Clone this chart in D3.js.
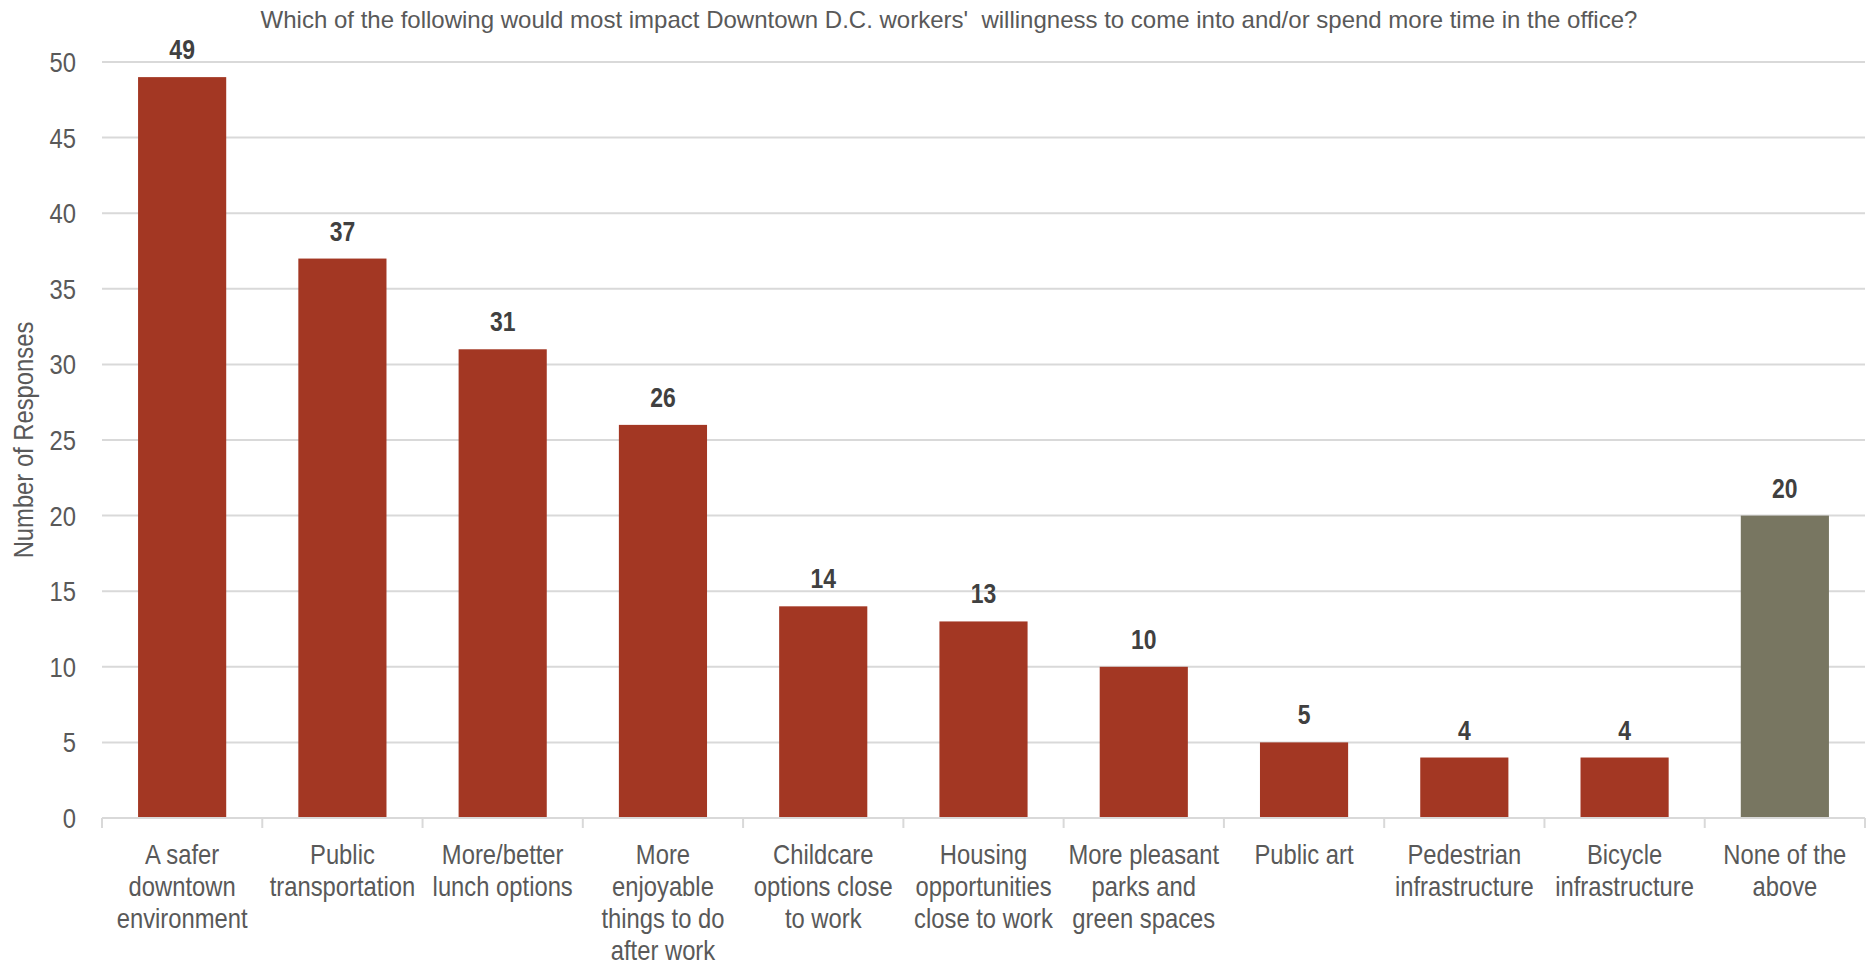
<!DOCTYPE html>
<html>
<head>
<meta charset="utf-8">
<title>Downtown D.C. workers</title>
<script src="https://cdn.jsdelivr.net/npm/d3@7"></script>
<style>
  body { margin: 0; background: #fff; }
  svg text { font-family: "Liberation Sans Narrow", "Arial Narrow", "Liberation Sans", sans-serif; }
</style>
</head>
<body>
<svg width="1869" height="967"></svg>
<script>
// data
const categories = [
  "A safer|downtown|environment",
  "Public|transportation",
  "More/better|lunch options",
  "More|enjoyable|things to do|after work",
  "Childcare|options close|to work",
  "Housing|opportunities|close to work",
  "More pleasant|parks and|green spaces",
  "Public art",
  "Pedestrian|infrastructure",
  "Bicycle|infrastructure",
  "None of the|above"
]
const responses = [49, 37, 31, 26, 14, 13, 10, 5, 4, 4, 20]
const yTicks = [0, 5, 10, 15, 20, 25, 30, 35, 40, 45, 50]
const title = "Which of the following would most impact Downtown D.C. workers'  willingness to come into and/or spend more time in the office?"

const svg = d3.select("svg")
const mL = 102, mR = 1865, mT = 62, mB = 818
const narrow = 0.85  // squeeze text horizontally, narrow font is not there

const x = d3.scaleBand().domain(d3.range(categories.length)).range([mL, mR]).paddingInner(0.45).paddingOuter(0.225)
const y = d3.scaleLinear().domain([0, 50]).range([mB, mT])

// gridlines
svg.append("g").selectAll("line").data(yTicks.filter(d => d > 0)).join("line")
  .attr("x1", mL).attr("x2", mR)
  .attr("y1", y).attr("y2", y)
  .attr("stroke", "#d9d9d9").attr("stroke-width", 2)

// y tick labels
svg.append("g").selectAll("text").data(yTicks).join("text")
  .attr("transform", d => `translate(76, ${y(d) + 10}) scale(${narrow}, 1)`)
  .attr("text-anchor", "end")
  .attr("font-size", 28).attr("fill", "#595959")
  .text(d => d)

// bars
svg.append("g").selectAll("rect").data(responses).join("rect")
  .attr("x", (d, i) => x(i)).attr("width", x.bandwidth())
  .attr("y", d => y(d)).attr("height", d => mB - y(d))
  .attr("fill", (d, i) => i === categories.length - 1 ? "#787661" : "#a33723")

// baseline + tick marks between categories
const step = x.step()
svg.append("line").attr("x1", mL).attr("x2", mR).attr("y1", mB).attr("y2", mB)
  .attr("stroke", "#d9d9d9").attr("stroke-width", 2)
svg.append("g").selectAll("line").data(d3.range(categories.length + 1)).join("line")
  .attr("x1", i => mL + i * step).attr("x2", i => mL + i * step)
  .attr("y1", mB).attr("y2", mB + 10)
  .attr("stroke", "#d9d9d9").attr("stroke-width", 2)

// value labels
svg.append("g").selectAll("text").data(responses).join("text")
  .attr("transform", (d, i) => `translate(${x(i) + x.bandwidth() / 2}, ${y(d) - 18}) scale(${narrow}, 1)`)
  .attr("text-anchor", "middle")
  .attr("font-size", 27).attr("font-weight", "bold").attr("fill", "#404040")
  .text(d => d)

// category labels
svg.append("g").selectAll("text").data(categories).join("text")
  .attr("transform", (d, i) => `translate(${x(i) + x.bandwidth() / 2}, 0) scale(${narrow}, 1)`)
  .attr("text-anchor", "middle")
  .attr("font-size", 28).attr("fill", "#595959")
  .each(function(d) {
    d3.select(this).selectAll("tspan").data(d.split("|")).join("tspan")
      .attr("x", 0).attr("y", (s, j) => 864 + j * 32)
      .text(s => s)
  })

// y axis title
svg.append("text")
  .attr("transform", `translate(33, ${(mT + mB) / 2}) rotate(-90) scale(${narrow}, 1)`)
  .attr("text-anchor", "middle")
  .attr("font-size", 28).attr("fill", "#595959")
  .text("Number of Responses")

// chart title
svg.append("text")
  .attr("x", 949).attr("y", 28)
  .attr("text-anchor", "middle")
  .attr("font-size", 24).attr("fill", "#595959")
  .style("white-space", "pre")
  .text(title)
</script>
</body>
</html>
